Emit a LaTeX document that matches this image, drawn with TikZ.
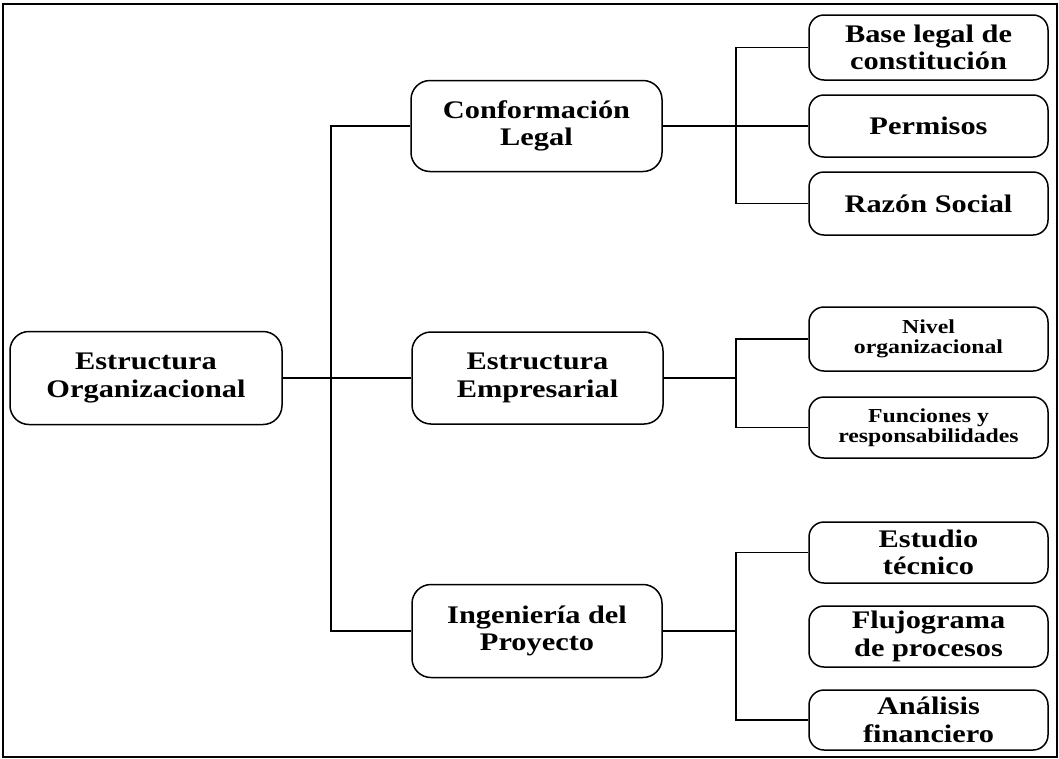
\documentclass[tikz,border=0pt]{standalone}
\usepackage{fontspec}
\setmainfont{Liberation Serif}
\newfontfamily\boxfont{Liberation Serif Bold}[FakeStretch=1.2]
\begin{document}
\begin{tikzpicture}[x=1pt,y=-1pt,
  box/.style={draw, line width=1.5pt, rounded corners=19pt, align=center,
    inner sep=0pt, font=\boxfont\fontsize{25.3}{27.5}\selectfont},
  leaf/.style={box, rounded corners=15pt, minimum width=239pt},
  smallleaf/.style={leaf, font=\boxfont\fontsize{19.8}{20.5}\selectfont},
  link/.style={line width=1.5pt}]
\useasboundingbox (0,0) rectangle (1059,758);
% outer frame
\draw[line width=1.6pt] (3,4) rectangle (1057,757);

% root and second level
\node[box, minimum width=272pt, minimum height=93pt] (root) at (146,378) {Estructura\\Organizacional};
\node[box, minimum width=251pt, minimum height=91pt] (legal) at (536.5,126) {Conformación\\Legal};
\node[box, minimum width=251pt, minimum height=92pt] (empresa) at (537.5,378) {Estructura\\Empresarial};
\node[box, minimum width=250pt, minimum height=93pt] (ing) at (537,631) {Ingeniería del\\Proyecto};

% third level
\node[leaf, minimum height=65pt] (base) at (928.5,47.5) {Base legal de\\constitución};
\node[leaf, minimum height=62pt] (perm) at (928.5,126) {Permisos};
\node[leaf, minimum height=63pt] (razon) at (928.5,203.5) {Razón Social};
\node[smallleaf, minimum height=64pt] (nivel) at (928.5,339) {Nivel\\organizacional};
\node[smallleaf, minimum height=61pt] (func) at (928.5,427.5) {Funciones y\\responsabilidades};
\node[leaf, minimum height=61pt] (estudio) at (928.5,552.5) {Estudio\\técnico};
\node[leaf, minimum height=61pt] (flujo) at (928.5,636.5) {Flujograma\\de procesos};
\node[leaf, minimum height=60pt] (anal) at (928.5,720) {Análisis\\financiero};

% connector trunks
\coordinate (trunk) at (331,0);
\coordinate (fork) at (736,0);

\draw[link] (root.east) -- (empresa.west);
\draw[link] (legal.west) -- (legal.west -| trunk) -- (ing.west -| trunk) -- (ing.west);

\draw[link] (legal.east) -- (perm.west);
\draw[link] (base.west) -- (base.west -| fork) -- (razon.west -| fork) -- (razon.west);

\draw[link] (empresa.east) -- (empresa.east -| fork);
\draw[link] (nivel.west) -- (nivel.west -| fork) -- (func.west -| fork) -- (func.west);

\draw[link] (ing.east) -- (ing.east -| fork);
\draw[link] (estudio.west) -- (estudio.west -| fork) -- (anal.west -| fork) -- (anal.west);
\end{tikzpicture}
\end{document}
